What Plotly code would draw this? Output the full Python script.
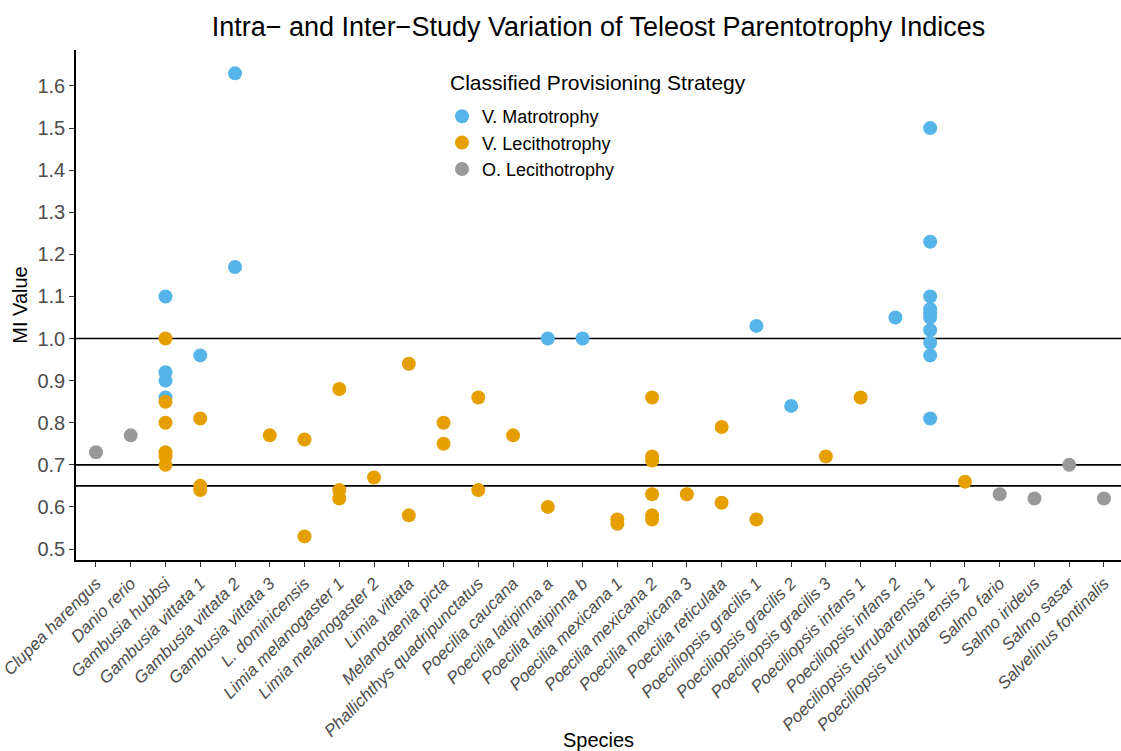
import plotly.graph_objects as go

species = [
    "Clupea harengus", "Danio rerio", "Gambusia hubbsi", "Gambusia vittata 1",
    "Gambusia vittata 2", "Gambusia vittata 3", "L. dominicensis",
    "Limia melanogaster 1", "Limia melanogaster 2", "Limia vittata",
    "Melanotaenia picta", "Phallichthys quadripunctatus", "Poecilia caucana",
    "Poecilia latipinna a", "Poecilia latipinna b", "Poecilia mexicana 1",
    "Poecilia mexicana 2", "Poecilia mexicana 3", "Poecilia reticulata",
    "Poeciliopsis gracilis 1", "Poeciliopsis gracilis 2", "Poeciliopsis gracilis 3",
    "Poeciliopsis infans 1", "Poeciliopsis infans 2", "Poeciliopsis turrubarensis 1",
    "Poeciliopsis turrubarensis 2", "Salmo fario", "Salmo irideus", "Salmo sasar",
    "Salvelinus fontinalis",
]

# V. Matrotrophy
matro_species = (["Gambusia hubbsi"] * 4 + ["Gambusia vittata 1"] + ["Gambusia vittata 2"] * 2
                 + ["Poecilia latipinna a", "Poecilia latipinna b", "Poeciliopsis gracilis 1",
                    "Poeciliopsis gracilis 2", "Poeciliopsis infans 2"]
                 + ["Poeciliopsis turrubarensis 1"] * 10)
matro_values = ([1.10, 0.92, 0.90, 0.86] + [0.96] + [1.63, 1.17]
                + [1.00, 1.00, 1.03, 0.84, 1.05]
                + [1.50, 1.23, 1.10, 1.07, 1.06, 1.05, 1.02, 0.99, 0.96, 0.81])

# V. Lecithotrophy
lecitho_species = (["Gambusia hubbsi"] * 6 + ["Gambusia vittata 1"] * 3 + ["Gambusia vittata 3"]
                   + ["L. dominicensis"] * 2 + ["Limia melanogaster 1"] * 3 + ["Limia melanogaster 2"]
                   + ["Limia vittata"] * 2 + ["Melanotaenia picta"] * 2
                   + ["Phallichthys quadripunctatus"] * 2 + ["Poecilia caucana", "Poecilia latipinna a"]
                   + ["Poecilia mexicana 1"] * 2 + ["Poecilia mexicana 2"] * 6 + ["Poecilia mexicana 3"]
                   + ["Poecilia reticulata"] * 2 + ["Poeciliopsis gracilis 1", "Poeciliopsis gracilis 3",
                                                    "Poeciliopsis infans 1", "Poeciliopsis turrubarensis 2"])
lecitho_values = ([1.00, 0.85, 0.80, 0.73, 0.72, 0.70] + [0.81, 0.65, 0.64] + [0.77]
                  + [0.76, 0.53] + [0.88, 0.64, 0.62] + [0.67]
                  + [0.94, 0.58] + [0.80, 0.75]
                  + [0.86, 0.64] + [0.77, 0.60]
                  + [0.57, 0.56] + [0.86, 0.72, 0.71, 0.63, 0.58, 0.57] + [0.63]
                  + [0.79, 0.61] + [0.57, 0.72, 0.86, 0.66])

# O. Lecithotrophy
ovi_species = ["Clupea harengus", "Danio rerio", "Salmo fario", "Salmo irideus", "Salmo sasar",
               "Salvelinus fontinalis"]
ovi_values = [0.73, 0.77, 0.63, 0.62, 0.70, 0.62]

ref_lines = [1.0, 0.7, 0.65]

groups = [
    ("V. Matrotrophy", matro_species, matro_values, "#56B4E9"),
    ("V. Lecithotrophy", lecitho_species, lecitho_values, "#E69F00"),
    ("O. Lecithotrophy", ovi_species, ovi_values, "#999999"),
]

FONT = "Liberation Sans, Arial, sans-serif"
W, H = 1121, 751
L, R, T, B = 76, 0, 50, 191
PW, PH = W - L - R, H - T - B

fig = go.Figure()
for name, xs, ys, col in groups:
    fig.add_trace(go.Scatter(
        x=xs, y=ys, mode="markers", name=name,
        marker=dict(color=col, size=14, line=dict(width=0)),
    ))

for v in ref_lines:
    fig.add_shape(type="line", xref="paper", x0=0, x1=1, yref="y", y0=v, y1=v,
                  line=dict(color="black", width=1.6), layer="below")

# legend title as annotation (ggplot-like spacing)
fig.add_annotation(text="Classified Provisioning Strategy", xref="paper", yref="paper",
                   x=(448 - L) / PW, y=(H - B - 82) / PH, xanchor="left", yanchor="middle",
                   showarrow=False, font=dict(size=21, color="black", family=FONT))

fig.update_layout(
    template="none",
    width=W, height=H,
    margin=dict(l=L, r=R, t=T, b=B, autoexpand=False),
    paper_bgcolor="white", plot_bgcolor="white",
    font=dict(family=FONT, color="black"),
    title=dict(text="Intra\u2212 and Inter\u2212Study Variation of Teleost Parentotrophy Indices",
               x=0.5, xref="paper", xanchor="center", y=1 - 27 / H, yref="container",
               yanchor="middle", font=dict(size=27, color="black", family=FONT)),
    showlegend=True,
    legend=dict(
        font=dict(size=18, color="black"),
        x=(442 - L) / PW, xanchor="left", y=(H - B - 98) / PH, yanchor="top",
        bgcolor="rgba(0,0,0,0)", tracegroupgap=0, itemsizing="trace",
    ),
    xaxis=dict(
        type="category", categoryorder="array", categoryarray=species,
        range=[-0.575, 29.49], tickangle=-45, automargin=False,
        tickfont=dict(size=17, color="#4D4D4D", style="italic"),
        showline=True, linecolor="black", linewidth=1.6, mirror=False,
        ticks="outside", ticklen=5, tickcolor="#333333", tickwidth=1,
        showgrid=False, zeroline=False,
        title=dict(text="Species", font=dict(size=20, color="black"), standoff=10),
    ),
    yaxis=dict(
        range=[0.4739, 1.6855], dtick=0.1, tick0=0.5, tickformat=".1f", automargin=False,
        tickfont=dict(size=20, color="#4D4D4D"),
        showline=True, linecolor="black", linewidth=1.6,
        ticks="outside", ticklen=5, tickcolor="#333333", tickwidth=1,
        showgrid=False, zeroline=False,
        title=dict(text="MI Value", font=dict(size=20, color="black"), standoff=4),
    ),
)

fig.write_html("out.html", config={"displayModeBar": False},
               post_script="document.body.style.margin='0';")
